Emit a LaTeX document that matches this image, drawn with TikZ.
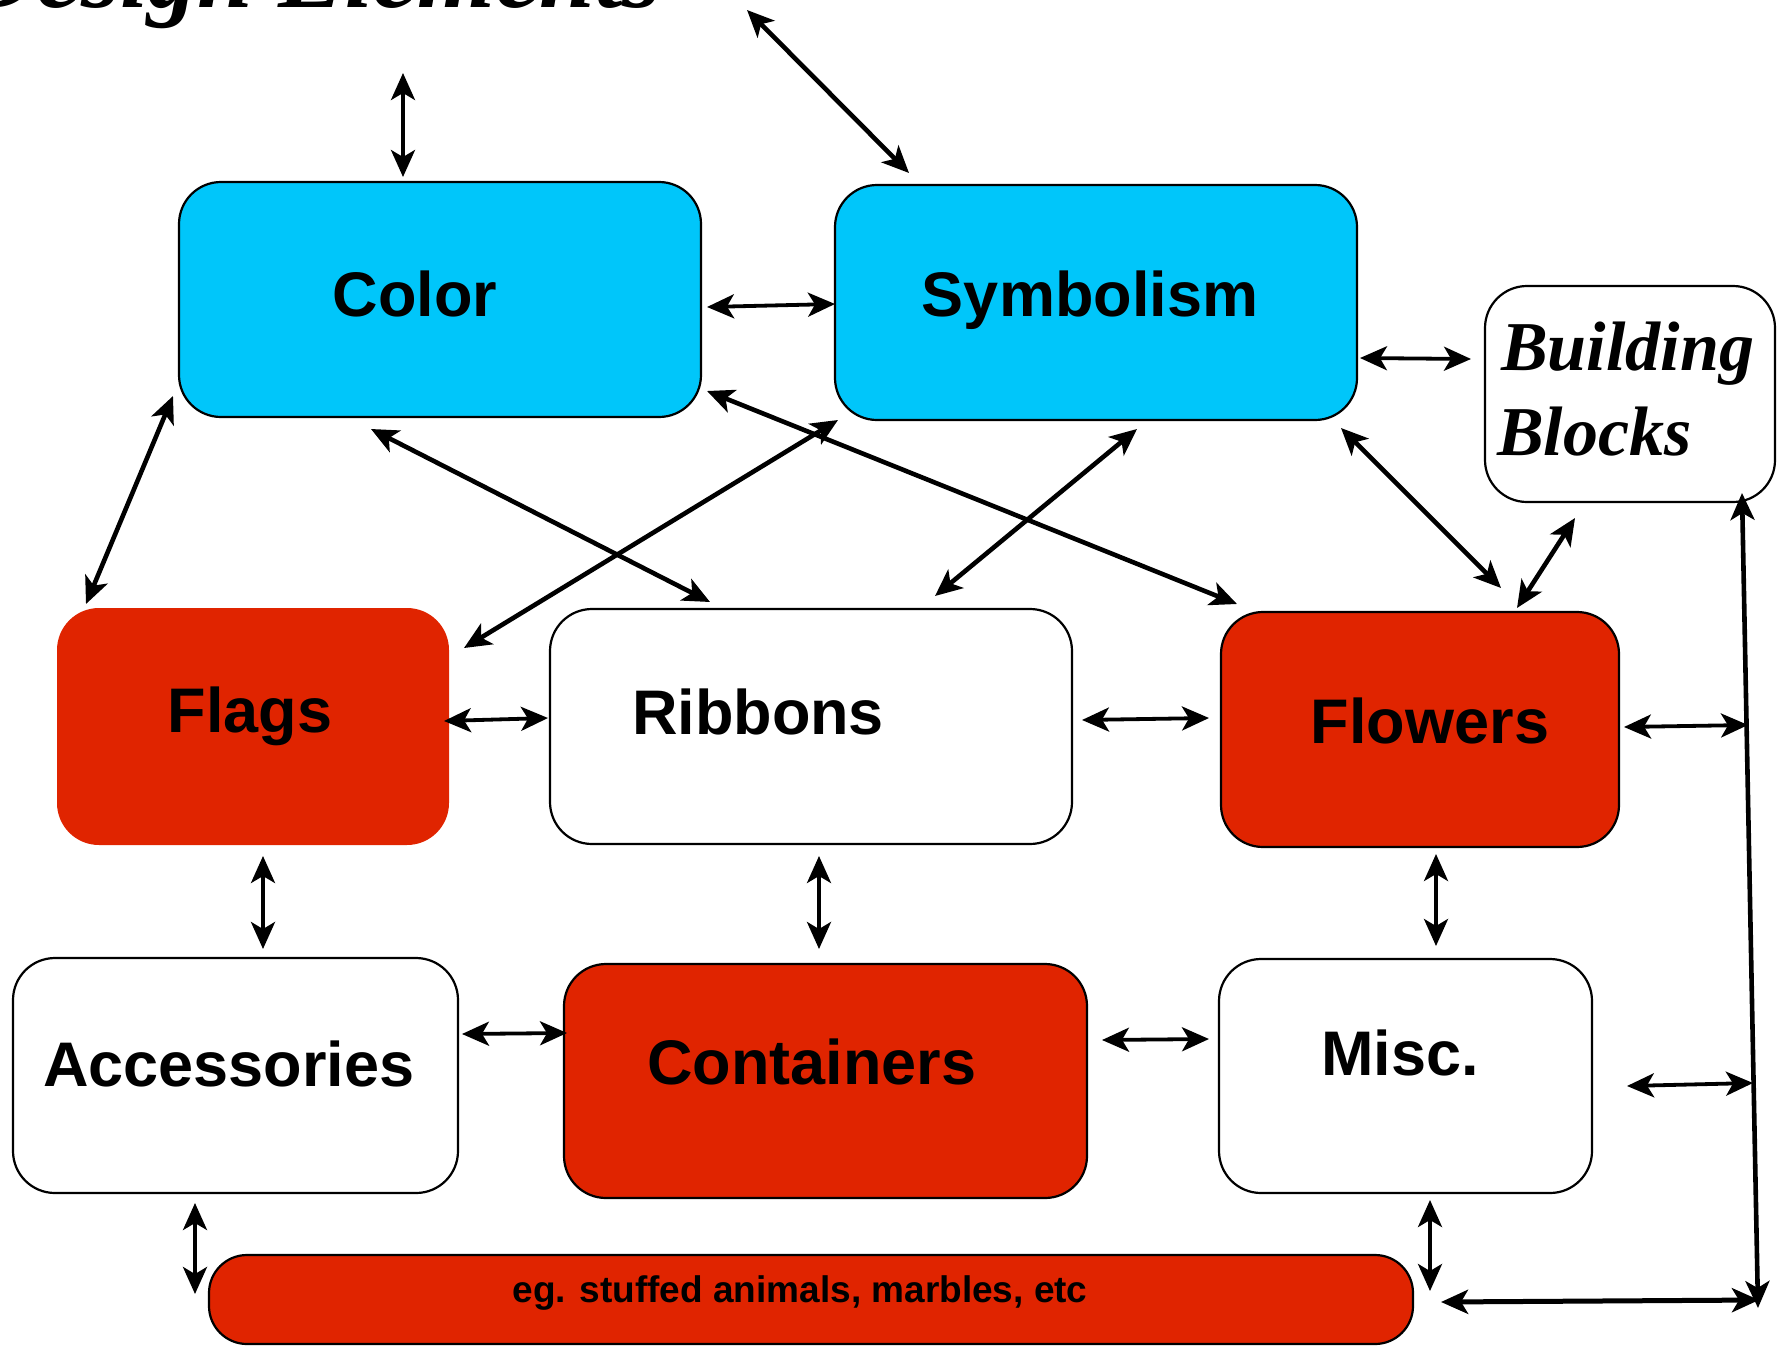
\documentclass[tikz,border=0pt]{standalone}
\usepackage{fontspec}
\setmainfont{Liberation Sans}
\newfontfamily\fancyfont{Liberation Serif}
\usetikzlibrary{arrows.meta}
\definecolor{boxcyan}{RGB}{0,198,250}
\definecolor{boxred}{RGB}{224,36,0}
\tikzset{
  box/.style={rectangle, rounded corners=42pt, line width=2.2pt, inner sep=0pt},
  lbl/.style={anchor=base, inner sep=0pt, font=\fontsize{63pt}{70pt}\selectfont\bfseries},
  tip/.tip={Stealth[length=27pt,width=24pt,inset=7pt]},
  biarrow/.style={tip-tip, line width=3.8pt},
  diag/.style={tip-tip, line width=4.6pt},
}
\begin{document}
\begin{tikzpicture}[x=1pt,y=-1pt]
\useasboundingbox (0,0) rectangle (1788,1346);
% title (mostly cut off at top)
\node[anchor=base east, inner sep=0pt] (title) at (662,8) {\fontsize{100pt}{110pt}\fancyfont\bfseries\itshape Design Elements};
% boxes
\node[box, draw, fill=boxcyan, minimum width=522pt, minimum height=235pt] (color) at (440,299.5) {};
\node[box, draw, fill=boxcyan, minimum width=522pt, minimum height=235pt] (symb) at (1096,302.5) {};
\node[box, draw, fill=white, minimum width=290pt, minimum height=216pt] (bb) at (1630,394) {};
\node[box, fill=boxred, minimum width=392pt, minimum height=237pt] (flags) at (253,726.5) {};
\node[box, draw, fill=white, minimum width=522pt, minimum height=235pt] (ribbons) at (811,726.5) {};
\node[box, draw, fill=boxred, minimum width=398pt, minimum height=235pt] (flowers) at (1420,729.5) {};
\node[box, draw, fill=white, minimum width=445pt, minimum height=235pt] (access) at (235.5,1075.5) {};
\node[box, draw, fill=boxred, minimum width=523pt, minimum height=234pt] (contain) at (825.5,1081) {};
\node[box, draw, fill=white, minimum width=373pt, minimum height=234pt] (misc) at (1405.5,1076) {};
\node[box, draw, fill=boxred, rounded corners=38pt, minimum width=1204pt, minimum height=89pt] (bar) at (811,1299.5) {};
% labels
\node[lbl] (tcolor) at (415,316) {Color};
\node[lbl] (tsymb) at (1090,316) {Symbolism};
\node[lbl] (tflags) at (250,732) {Flags};
\node[lbl] (tribbons) at (758,734) {Ribbons};
\node[lbl] (tflowers) at (1430,743) {Flowers};
\node[lbl] (taccess) at (229,1086) {Accessories};
\node[lbl] (tcontain) at (812,1084) {Containers};
\node[lbl] (tmisc) at (1400,1075) {Misc.};
\node[anchor=base, inner sep=0pt, font=\fontsize{37pt}{42pt}\selectfont\bfseries] (tbar) at (800,1302) {eg. stuffed animals, marbles, etc};
\node[anchor=base west, inner sep=0pt] (tbb1) at (1501,370) {\fontsize{70pt}{72pt}\fancyfont\bfseries\itshape Building};
\node[anchor=base west, inner sep=0pt] (tbb2) at (1497,455) {\fontsize{70pt}{72pt}\fancyfont\bfseries\itshape Blocks};
% connector end points
\coordinate (a1) at (403,73);   \coordinate (b1) at (403,177);
\coordinate (a2) at (747,10);   \coordinate (b2) at (909,173);
\coordinate (a3) at (707,307);  \coordinate (b3) at (835,304);
\coordinate (a4) at (1360,358); \coordinate (b4) at (1471,359);
\coordinate (a5) at (173,396);  \coordinate (b5) at (86,604);
\coordinate (a6) at (371,429);  \coordinate (b6) at (710,602);
\coordinate (a7) at (838,420);  \coordinate (b7) at (464,648);
\coordinate (a8) at (707,391);  \coordinate (b8) at (1237,604);
\coordinate (a9) at (1137,429); \coordinate (b9) at (935,596);
\coordinate (a10) at (1341,428); \coordinate (b10) at (1501,588);
\coordinate (a11) at (1575,518); \coordinate (b11) at (1517,608);
\coordinate (a12) at (444,721);  \coordinate (b12) at (548,718);
\coordinate (a13) at (1082,720); \coordinate (b13) at (1209,718);
\coordinate (a14) at (1624,727); \coordinate (b14) at (1748,725);
\coordinate (a15) at (263,856);  \coordinate (b15) at (263,949);
\coordinate (a16) at (819,856);  \coordinate (b16) at (819,949);
\coordinate (a17) at (1436,854); \coordinate (b17) at (1436,946);
\coordinate (a18) at (462,1034); \coordinate (b18) at (567,1033);
\coordinate (a19) at (1102,1040); \coordinate (b19) at (1209,1039);
\coordinate (a20) at (1627,1086); \coordinate (b20) at (1753,1083);
\coordinate (a21) at (195,1203); \coordinate (b21) at (195,1294);
\coordinate (a22) at (1430,1200); \coordinate (b22) at (1430,1291);
\coordinate (a23) at (1441,1302); \coordinate (b23) at (1759,1300);
\coordinate (a24) at (1742,493); \coordinate (b24) at (1758,1308);
% connectors
\draw[biarrow] (a1) -- (b1);
\draw[diag] (a2) -- (b2);
\draw[biarrow] (a3) -- (b3);
\draw[biarrow] (a4) -- (b4);
\draw[diag] (a5) -- (b5);
\draw[diag] (a6) -- (b6);
\draw[diag] (a7) -- (b7);
\draw[diag] (a8) -- (b8);
\draw[diag] (a9) -- (b9);
\draw[diag] (a10) -- (b10);
\draw[diag] (a11) -- (b11);
\draw[biarrow] (a12) -- (b12);
\draw[biarrow] (a13) -- (b13);
\draw[biarrow] (a14) -- (b14);
\draw[biarrow] (a15) -- (b15);
\draw[biarrow] (a16) -- (b16);
\draw[biarrow] (a17) -- (b17);
\draw[biarrow] (a18) -- (b18);
\draw[biarrow] (a19) -- (b19);
\draw[biarrow] (a20) -- (b20);
\draw[biarrow] (a21) -- (b21);
\draw[biarrow] (a22) -- (b22);
\draw[tip-tip, line width=5pt] (a23) -- (b23);
\draw[tip-tip, line width=4.6pt] (a24) -- (b24);
\end{tikzpicture}
\end{document}
